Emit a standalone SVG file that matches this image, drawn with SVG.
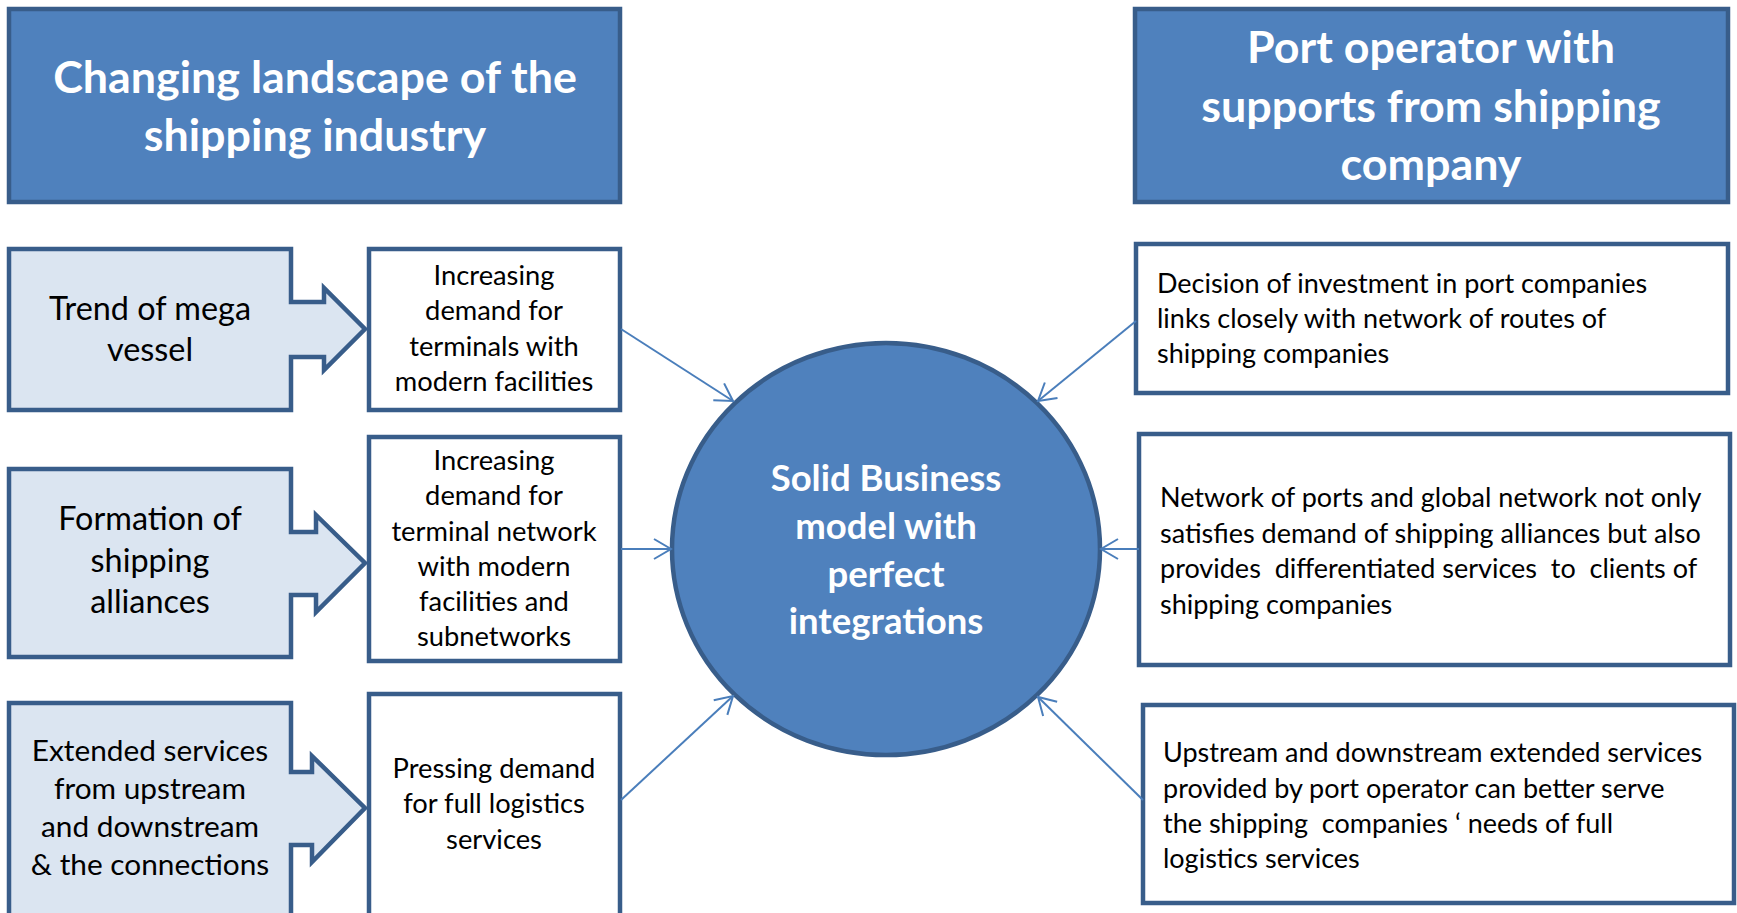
<svg xmlns="http://www.w3.org/2000/svg" width="1737" height="913" viewBox="0 0 1737 913">
  <style>
    .hdr { fill: #4f81bd; stroke: #385d8a; stroke-width: 4.5; }
    .cause { fill: #dbe5f1; stroke: #385d8a; stroke-width: 4.5; stroke-linejoin: miter; }
    .box { fill: #ffffff; stroke: #385d8a; stroke-width: 4.5; }
    .hub { fill: #4f81bd; stroke: #385d8a; stroke-width: 4.5; }
    .t-hdr { font-family: Lato, "Liberation Sans", sans-serif; font-weight: bold; font-size: 44.8px; fill: #ffffff; text-anchor: middle; }
    .t-hub { font-family: Lato, "Liberation Sans", sans-serif; font-weight: bold; font-size: 36.5px; fill: #ffffff; text-anchor: middle; }
    .t-cause { font-family: Lato, "Liberation Sans", sans-serif; font-size: 32.4px; fill: #000000; text-anchor: middle; }
    .t-cause-sm { font-family: Lato, "Liberation Sans", sans-serif; font-size: 29.8px; fill: #000000; text-anchor: middle; }
    .t-mid { font-family: Lato, "Liberation Sans", sans-serif; font-size: 27.3px; fill: #000000; text-anchor: middle; }
    .t-right { font-family: Lato, "Liberation Sans", sans-serif; font-size: 27px; fill: #000000; }
    .link { stroke: #4a7ebb; stroke-width: 2; fill: none; marker-end: url(#open); }
  </style>
  <defs>
    <marker id="open" viewBox="-20 -12 22 24" refX="0" refY="0" markerWidth="22" markerHeight="24" markerUnits="userSpaceOnUse" orient="auto">
      <path d="M-17,-10 L0,0 L-17,10" fill="none" stroke="#4a7ebb" stroke-width="2"/>
    </marker>
  </defs>

  <!-- Column headers -->
  <g id="header-left">
    <rect class="hdr" x="9" y="9" width="611" height="193"/>
    <text class="t-hdr" x="315" y="93">Changing landscape of the</text>
    <text class="t-hdr" x="315" y="151">shipping industry</text>
  </g>
  <g id="header-right">
    <rect class="hdr" x="1135" y="9" width="593" height="193"/>
    <text class="t-hdr" x="1431" y="63">Port operator with</text>
    <text class="t-hdr" x="1431" y="122">supports from shipping</text>
    <text class="t-hdr" x="1431" y="180">company</text>
  </g>

  <!-- Driving trends (arrow callouts) -->
  <g id="trend-mega-vessel">
    <path class="cause" d="M9,249 H291 V302 H324 V288 L365,329 L324,370 V357 H291 V410 H9 Z"/>
    <text class="t-cause" x="150" y="320">Trend of mega</text>
    <text class="t-cause" x="150" y="361">vessel</text>
  </g>
  <g id="trend-alliances">
    <path class="cause" d="M9,469 H291 V532 H316 V515 L365,563 L316,612 V595 H291 V657 H9 Z"/>
    <text class="t-cause" x="150" y="530">Formation of</text>
    <text class="t-cause" x="150" y="572">shipping</text>
    <text class="t-cause" x="150" y="613">alliances</text>
  </g>
  <g id="trend-extended">
    <path class="cause" d="M9,703 H291 V772 H312 V756 L365,808 L312,862 V845 H291 V930 H9 Z"/>
    <text class="t-cause-sm" x="150" y="761">Extended services</text>
    <text class="t-cause-sm" x="150" y="799">from upstream</text>
    <text class="t-cause-sm" x="150" y="837">and downstream</text>
    <text class="t-cause-sm" x="150" y="875">&amp; the connections</text>
  </g>

  <!-- Resulting demands -->
  <g id="demand-terminals">
    <rect class="box" x="369" y="249" width="251" height="161"/>
    <text class="t-mid" x="494" y="285">Increasing</text>
    <text class="t-mid" x="494" y="320">demand for</text>
    <text class="t-mid" x="494" y="356">terminals with</text>
    <text class="t-mid" x="494" y="391">modern facilities</text>
  </g>
  <g id="demand-network">
    <rect class="box" x="369" y="437" width="251" height="224"/>
    <text class="t-mid" x="494" y="470">Increasing</text>
    <text class="t-mid" x="494" y="505">demand for</text>
    <text class="t-mid" x="494" y="541">terminal network</text>
    <text class="t-mid" x="494" y="576">with modern</text>
    <text class="t-mid" x="494" y="611">facilities and</text>
    <text class="t-mid" x="494" y="646">subnetworks</text>
  </g>
  <g id="demand-logistics">
    <rect class="box" x="369" y="694" width="251" height="240"/>
    <text class="t-mid" x="494" y="778">Pressing demand</text>
    <text class="t-mid" x="494" y="813">for full logistics</text>
    <text class="t-mid" x="494" y="849">services</text>
  </g>

  <!-- Central business model -->
  <g id="business-model">
    <ellipse class="hub" cx="886" cy="549" rx="214" ry="206"/>
    <text class="t-hub" x="886" y="491">Solid Business</text>
    <text class="t-hub" x="886" y="539">model with</text>
    <text class="t-hub" x="886" y="587">perfect</text>
    <text class="t-hub" x="886" y="634">integrations</text>
  </g>

  <!-- Port operator responses -->
  <g id="response-investment">
    <rect class="box" x="1136" y="244" width="592" height="149"/>
    <text class="t-right" x="1157" y="293">Decision of investment in port companies</text>
    <text class="t-right" x="1157" y="328">links closely with network of routes of</text>
    <text class="t-right" x="1157" y="363">shipping companies</text>
  </g>
  <g id="response-network">
    <rect class="box" x="1139" y="434" width="591" height="231"/>
    <text class="t-right" x="1160" y="507">Network of ports and global network not only</text>
    <text class="t-right" x="1160" y="543">satisfies demand of shipping alliances but also</text>
    <text class="t-right" x="1160" y="578" xml:space="preserve">provides  differentiated services  to  clients of</text>
    <text class="t-right" x="1160" y="614">shipping companies</text>
  </g>
  <g id="response-extended">
    <rect class="box" x="1143" y="705" width="591" height="198"/>
    <text class="t-right" x="1163" y="762">Upstream and downstream extended services</text>
    <text class="t-right" x="1163" y="798">provided by port operator can better serve</text>
    <text class="t-right" x="1163" y="833" xml:space="preserve">the shipping  companies ‘ needs of full</text>
    <text class="t-right" x="1163" y="868">logistics services</text>
  </g>

  <!-- Connectors into the central model -->
  <g id="connectors">
    <line class="link" x1="621" y1="329" x2="733" y2="401"/>
    <line class="link" x1="621" y1="549" x2="671" y2="549"/>
    <line class="link" x1="621" y1="800" x2="733" y2="696"/>
    <line class="link" x1="1136" y1="321" x2="1038" y2="401"/>
    <line class="link" x1="1139" y1="549" x2="1101" y2="549"/>
    <line class="link" x1="1143" y1="800" x2="1038" y2="697"/>
  </g>
</svg>
